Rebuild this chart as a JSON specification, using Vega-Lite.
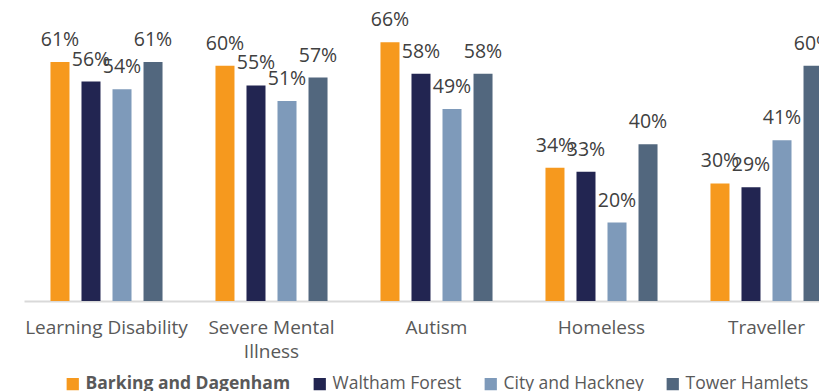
{
  "$schema": "https://vega.github.io/schema/vega-lite/v6.json",
  "width": 795,
  "height": 301,
  "padding": {"left": 24, "top": 0, "right": 0, "bottom": 0},
  "background": "white",
  "config": {
    "view": {"stroke": null},
    "font": "Open Sans"
  },
  "data": {
    "values": [
      {"category": "Learning Disability", "area": "Barking and Dagenham", "value": 0.61},
      {"category": "Learning Disability", "area": "Waltham Forest", "value": 0.56},
      {"category": "Learning Disability", "area": "City and Hackney", "value": 0.54},
      {"category": "Learning Disability", "area": "Tower Hamlets", "value": 0.61},
      {"category": "Severe Mental Illness", "area": "Barking and Dagenham", "value": 0.60},
      {"category": "Severe Mental Illness", "area": "Waltham Forest", "value": 0.55},
      {"category": "Severe Mental Illness", "area": "City and Hackney", "value": 0.51},
      {"category": "Severe Mental Illness", "area": "Tower Hamlets", "value": 0.57},
      {"category": "Autism", "area": "Barking and Dagenham", "value": 0.66},
      {"category": "Autism", "area": "Waltham Forest", "value": 0.58},
      {"category": "Autism", "area": "City and Hackney", "value": 0.49},
      {"category": "Autism", "area": "Tower Hamlets", "value": 0.58},
      {"category": "Homeless", "area": "Barking and Dagenham", "value": 0.34},
      {"category": "Homeless", "area": "Waltham Forest", "value": 0.33},
      {"category": "Homeless", "area": "City and Hackney", "value": 0.20},
      {"category": "Homeless", "area": "Tower Hamlets", "value": 0.40},
      {"category": "Traveller", "area": "Barking and Dagenham", "value": 0.30},
      {"category": "Traveller", "area": "Waltham Forest", "value": 0.29},
      {"category": "Traveller", "area": "City and Hackney", "value": 0.41},
      {"category": "Traveller", "area": "Tower Hamlets", "value": 0.60}
    ]
  },
  "encoding": {
    "x": {
      "field": "category",
      "type": "nominal",
      "sort": null,
      "scale": {"range": [0, 825], "paddingInner": 0.248, "paddingOuter": 0.124},
      "axis": {
        "title": null,
        "labelAngle": 0,
        "labelFont": "Open Sans",
        "labelFontSize": 19,
        "labelColor": "#595959",
        "labelPadding": 17,
        "labelLineHeight": 24,
        "labelExpr": "datum.value == 'Severe Mental Illness' ? ['Severe Mental', 'Illness'] : datum.value",
        "domainColor": "#d9d9d9",
        "domainWidth": 2,
        "ticks": false
      }
    },
    "xOffset": {
      "field": "area",
      "type": "nominal",
      "sort": ["Barking and Dagenham", "Waltham Forest", "City and Hackney", "Tower Hamlets"],
      "scale": {"paddingInner": 0.387, "paddingOuter": 0.194}
    },
    "y": {
      "field": "value",
      "type": "quantitative",
      "scale": {"domain": [0, 0.768], "nice": false},
      "axis": null
    }
  },
  "layer": [
    {
      "mark": {"type": "bar", "clip": true},
      "encoding": {
        "color": {
          "field": "area",
          "type": "nominal",
          "sort": ["Barking and Dagenham", "Waltham Forest", "City and Hackney", "Tower Hamlets"],
          "scale": {
            "domain": ["Barking and Dagenham", "Waltham Forest", "City and Hackney", "Tower Hamlets"],
            "range": ["#F6991E", "#222551", "#7E9ABA", "#52677E"]
          },
          "legend": {
            "title": null,
            "orient": "none",
            "legendX": 40,
            "legendY": 375,
            "direction": "horizontal",
            "symbolType": "square",
            "symbolSize": 150,
            "symbolStrokeWidth": 0,
            "symbolOpacity": 1,
            "labelFont": "Open Sans",
            "labelFontSize": 17.5,
            "labelColor": "#595959",
            "labelOffset": 4,
            "columnPadding": 20,
            "labelLimit": 400,
            "encode": {
              "labels": {
                "update": {
                  "fontWeight": {"signal": "datum.value === 'Barking and Dagenham' ? 'bold' : 'normal'"}
                }
              }
            }
          }
        }
      }
    },
    {
      "mark": {"type": "text", "clip": true, "baseline": "alphabetic", "dy": -16, "font": "Open Sans", "fontSize": 19.5, "color": "#404040"},
      "encoding": {
        "text": {"field": "value", "type": "quantitative", "format": ".0%"}
      }
    }
  ]
}
